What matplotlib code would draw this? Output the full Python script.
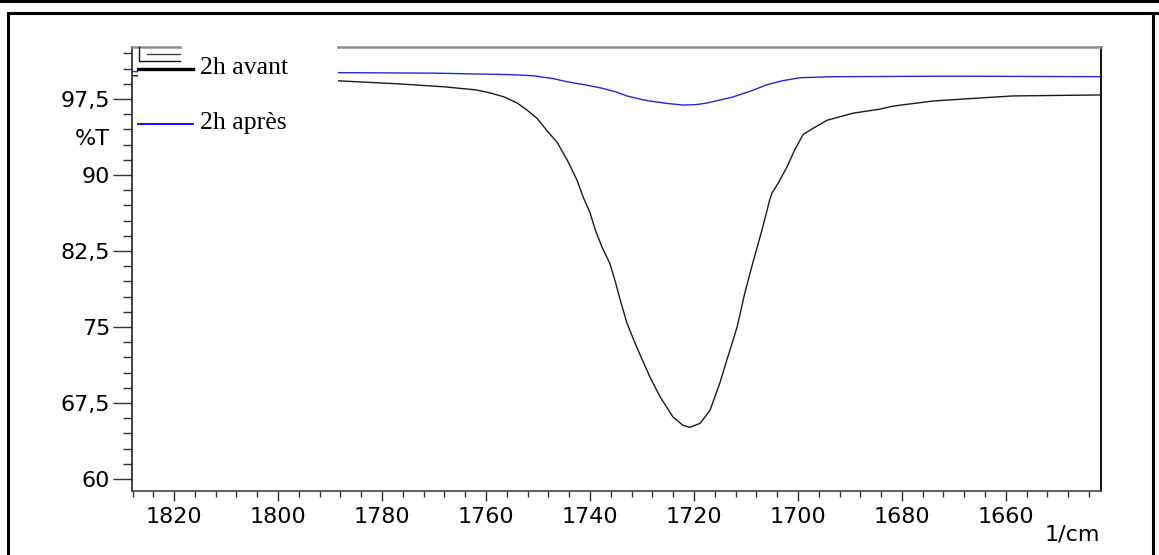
import matplotlib
matplotlib.use("Agg")
import matplotlib.pyplot as plt
from matplotlib.lines import Line2D
from matplotlib.patches import Rectangle
from matplotlib.ticker import MultipleLocator, FixedLocator, FixedFormatter

# ---- data (wavenumber 1/cm, %T) ----
avant_wn = [1828.1, 1810.0, 1795.0, 1788.7, 1777.1, 1768.0, 1762.0, 1759.2, 1756.5,
            1754.0, 1752.1, 1750.2, 1748.3, 1746.3, 1744.4, 1742.5, 1741.3, 1740.0,
            1739.0, 1737.7, 1736.2, 1735.2, 1734.2, 1732.9, 1731.0, 1728.5, 1726.5,
            1724.0, 1722.1, 1720.8, 1718.8, 1716.9, 1715.0, 1713.7, 1711.7, 1710.2,
            1708.7, 1706.9, 1705.4, 1705.0, 1703.8, 1702.1, 1700.6, 1699.0, 1697.1,
            1694.4, 1689.4, 1684.2, 1681.7, 1674.0, 1665.0, 1658.7, 1641.7]
avant_t = [99.8, 99.6, 99.4, 99.3, 99.0, 98.7, 98.4, 98.1, 97.7,
           97.1, 96.4, 95.6, 94.4, 93.2, 91.5, 89.5, 87.8, 86.3,
           84.6, 82.9, 81.3, 79.6, 77.7, 75.4, 73.0, 70.1, 68.1,
           66.1, 65.3, 65.1, 65.5, 66.8, 69.5, 71.7, 75.0, 78.4,
           81.3, 84.6, 87.6, 88.2, 89.2, 90.8, 92.5, 94.0, 94.6,
           95.4, 96.1, 96.5, 96.8, 97.3, 97.6, 97.8, 97.9]

apres_wn = [1828.1, 1800.0, 1788.7, 1770.0, 1760.0, 1755.0, 1751.0, 1747.0, 1744.4,
            1741.0, 1738.0, 1735.0, 1732.9, 1730.5, 1728.5, 1725.0, 1722.0, 1719.5,
            1717.5, 1715.0, 1712.5, 1709.0, 1706.0, 1703.0, 1699.6, 1693.3, 1670.0,
            1641.7]
apres_t = [100.2, 100.15, 100.1, 100.05, 99.95, 99.9, 99.8, 99.5, 99.2,
           98.9, 98.6, 98.2, 97.8, 97.5, 97.3, 97.05, 96.9, 96.95,
           97.1, 97.4, 97.7, 98.3, 98.9, 99.3, 99.6, 99.7, 99.75,
           99.7]

y_ticks = [60, 67.5, 75, 82.5, 90, 97.5]
y_ticklabels = ["60", "67,5", "75", "82,5", "90", "97,5"]
x_ticks = [1820, 1800, 1780, 1760, 1740, 1720, 1700, 1680, 1660]
series_labels = ["2h avant", "2h après"]

W, H = 1159, 555
fig = plt.figure(figsize=(W / 100, H / 100), dpi=100)

def fx(x):
    return x / W

def fy(y):
    return 1 - y / H

ax_l, ax_r, ax_t, ax_b = 132, 1101, 47, 491
ax = fig.add_axes([fx(ax_l), fy(ax_b), (ax_r - ax_l) / W, (ax_b - ax_t) / H])

ax.plot(avant_wn, avant_t, color="#1a1a1a", lw=1.0, zorder=3)
ax.plot(apres_wn, apres_t, color="#2626d8", lw=1.0, zorder=3)

ax.set_xlim(1828.1, 1641.7)
ax.set_ylim(58.82, 102.63)

ax.yaxis.set_major_locator(FixedLocator(y_ticks))
ax.yaxis.set_major_formatter(FixedFormatter(y_ticklabels))
ax.yaxis.set_minor_locator(MultipleLocator(1.5))
ax.xaxis.set_major_locator(FixedLocator(x_ticks))
ax.xaxis.set_minor_locator(MultipleLocator(4))

FS = 16
for lab in ax.get_xticklabels() + ax.get_yticklabels():
    lab.set_fontfamily("DejaVu Sans")
    lab.set_fontsize(FS)

ax.tick_params(axis="y", which="major", direction="out", length=13.7, width=1,
               color="#333333", pad=2, labelsize=FS)
ax.tick_params(axis="y", which="minor", direction="out", length=6.5, width=1,
               color="#333333")
ax.tick_params(axis="x", which="major", direction="out", length=7.2, width=1,
               color="#333333", pad=4, labelsize=FS)
ax.tick_params(axis="x", which="minor", direction="out", length=4.3, width=1,
               color="#333333")

ax.spines["top"].set_visible(False)
ax.spines["left"].set_color("#222222")
ax.spines["left"].set_linewidth(1.2)
ax.spines["bottom"].set_color("#444444")
ax.spines["bottom"].set_linewidth(1.2)
ax.spines["right"].set_color("#111111")
ax.spines["right"].set_linewidth(1.4)

# top border (grey, interrupted by the legend)
for x0, x1 in [(132, 180), (338, 1101)]:
    fig.add_artist(Line2D([fx(x0), fx(x1)], [fy(47), fy(47)], color="#8c8c8c",
                          lw=1.8, transform=fig.transFigure, zorder=5))

# legend area
fig.add_artist(Rectangle((fx(138), fy(145)), (338 - 138) / W, (145 - 48) / H,
                         facecolor="white", edgecolor="none",
                         transform=fig.transFigure, zorder=4))
fig.add_artist(Line2D([fx(139), fx(139), fx(180)], [fy(47), fy(61), fy(61)],
                      color="#111111", lw=1.0, transform=fig.transFigure, zorder=5))
fig.add_artist(Line2D([fx(147), fx(180)], [fy(54), fy(54)],
                      color="#333333", lw=0.9, transform=fig.transFigure, zorder=5))
fig.add_artist(Line2D([fx(138), fx(193)], [fy(69), fy(69)],
                      color="black", lw=2.4, transform=fig.transFigure, zorder=5))
fig.add_artist(Line2D([fx(138), fx(193)], [fy(124), fy(124)],
                      color="#0000ff", lw=1.3, transform=fig.transFigure, zorder=5))
fig.text(fx(200), fy(68), series_labels[0], family="Liberation Serif", size=18.5,
         ha="left", va="center", zorder=6)
fig.text(fx(200), fy(123), series_labels[1], family="Liberation Serif", size=18.5,
         ha="left", va="center", zorder=6)

# axis labels
fig.text(fx(110), fy(139), "%T", family="DejaVu Sans", size=FS,
         ha="right", va="center")
fig.text(fx(1100), fy(535), "1/cm", family="DejaVu Sans", size=FS,
         ha="right", va="center")

# outer frame
fig.add_artist(Line2D([0, 1], [fy(1), fy(1)], color="black", lw=2.2,
                      transform=fig.transFigure))
fig.add_artist(Line2D([fx(8), 1], [fy(13), fy(13)], color="black", lw=2.2,
                      transform=fig.transFigure))
fig.add_artist(Line2D([fx(8), fx(8)], [fy(13), 0], color="black", lw=2.2,
                      transform=fig.transFigure))
fig.add_artist(Line2D([fx(1153), fx(1153)], [fy(13), 0], color="black", lw=2.2,
                      transform=fig.transFigure))

fig.savefig("out.png", dpi=100, facecolor="white")
